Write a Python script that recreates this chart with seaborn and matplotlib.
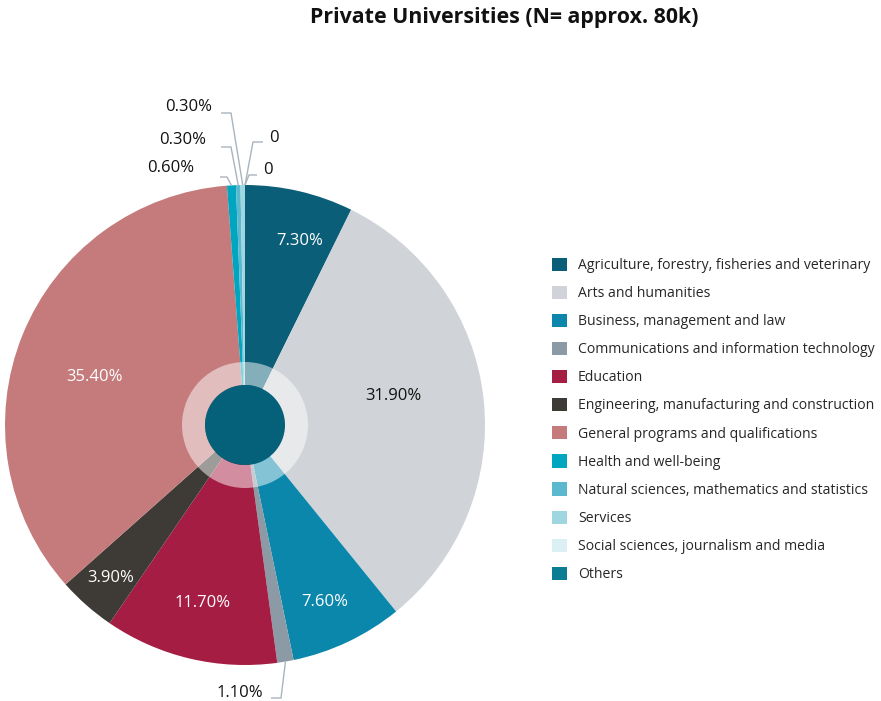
import numpy as np
import matplotlib
matplotlib.use("Agg")
import matplotlib.pyplot as plt
from matplotlib.patches import Patch, Circle, Wedge
import seaborn as sns

categories = [
    "Agriculture, forestry, fisheries and veterinary",
    "Arts and humanities",
    "Business, management and law",
    "Communications and information technology",
    "Education",
    "Engineering, manufacturing and construction",
    "General programs and qualifications",
    "Health and well-being",
    "Natural sciences, mathematics and statistics",
    "Services",
    "Social sciences, journalism and media",
    "Others",
]
shares = [7.3, 31.9, 7.6, 1.1, 11.7, 3.9, 35.4, 0.6, 0.3, 0.3, 0.0, 0.0]
value_labels = ["7.30%", "31.90%", "7.60%", "1.10%", "11.70%", "3.90%",
                "35.40%", "0.60%", "0.30%", "0.30%", "0", "0"]
colors = ["#0b5e78", "#d0d3d8", "#0a87ab", "#8c9aa6", "#a51d42", "#3e3a36",
          "#c57b7b", "#00a6c0", "#5bb9cf", "#9fd6e0", "#daf0f3", "#0a7d93"]
title = "Private Universities (N= approx. 80k)"

sns.set_theme(style="white")
plt.rcParams["font.family"] = ["Open Sans", "DejaVu Sans"]

W, H = 881, 701
fig = plt.figure(figsize=(W / 100, H / 100), dpi=100)
cx, cy, R = 245, 425, 240
ax = fig.add_axes([(cx - R) / W, (H - cy - R) / H, 2 * R / W, 2 * R / H])
ax.axis("off")

wedges, _ = ax.pie(shares, colors=colors, startangle=90, counterclock=False,
                   radius=1.0, wedgeprops=dict(linewidth=0))
ax.set_xlim(-1, 1)
ax.set_ylim(-1, 1)

# translucent ring and dark hub in the middle
ax.add_patch(Wedge((0, 0), 63 / R, 0, 360, width=23 / R, facecolor="white",
                   alpha=0.5, linewidth=0))
ax.add_patch(Circle((0, 0), 40 / R, facecolor="#05607a", linewidth=0))

total = sum(shares)
mids = []
acc = 0.0
for s in shares:
    mids.append(90 - 360 * (acc + s / 2) / total)
    acc += s

# labels inside the larger slices: (radius, angle nudge in degrees, colour)
inside = {0: (0.80, -3.5, "white"), 1: (0.63, 4.7, "#111111"),
          2: (0.81, -1.2, "white"), 4: (0.76, 0.0, "white"),
          5: (0.85, 0.0, "white"), 6: (0.66, 4.4, "white")}
for i, (r, nudge, col) in inside.items():
    a = np.deg2rad(mids[i] + nudge)
    ax.text(r * np.cos(a), r * np.sin(a), value_labels[i], color=col,
            fontsize=12, ha="center", va="center")

# small slices get leader lines
line_col = "#a9b4bd"


def px(x, y):
    return ((x - cx) / R, (cy - y) / R)


callouts = {
    3: dict(elbow=(281, 698), end=(271, 698), text=(263, 693), ha="right"),
    7: dict(elbow=(227, 177), end=(220, 177), text=(194, 168), ha="right"),
    8: dict(elbow=(231, 147), end=(221, 147), text=(206, 140), ha="right"),
    9: dict(elbow=(231, 113), end=(221, 113), text=(212, 107), ha="right"),
    10: dict(elbow=(253, 142), end=(263, 142), text=(269, 138), ha="left"),
    11: dict(elbow=(249, 175), end=(257, 175), text=(263, 170), ha="left"),
}
for i, c in callouts.items():
    a = np.deg2rad(mids[i])
    sx, sy = np.cos(a), np.sin(a)
    ex, ey = px(*c["elbow"])
    tx, ty = px(*c["end"])
    ax.plot([sx, ex, tx], [sy, ey, ty], color=line_col, lw=1.0,
            clip_on=False, solid_capstyle="butt")
    lx, ly = px(*c["text"])
    ax.text(lx, ly, value_labels[i], fontsize=12, color="#111111",
            ha=c["ha"], va="center", clip_on=False)

fig.text(504 / W, 1 - 18 / H, title, ha="center", va="center",
         fontsize=15.4, fontweight="bold", color="#111111")

handles = [Patch(facecolor=c, edgecolor="none") for c in colors]
fig.legend(handles, categories, loc="upper left",
           bbox_to_anchor=(552 / W, 1 - 257.5 / H), frameon=False,
           fontsize=10.1, handlelength=1.08, handleheight=1.08,
           handletextpad=0.78, labelspacing=0.905, borderaxespad=0,
           borderpad=0)

fig.savefig("out.png", dpi=100, facecolor="white")
